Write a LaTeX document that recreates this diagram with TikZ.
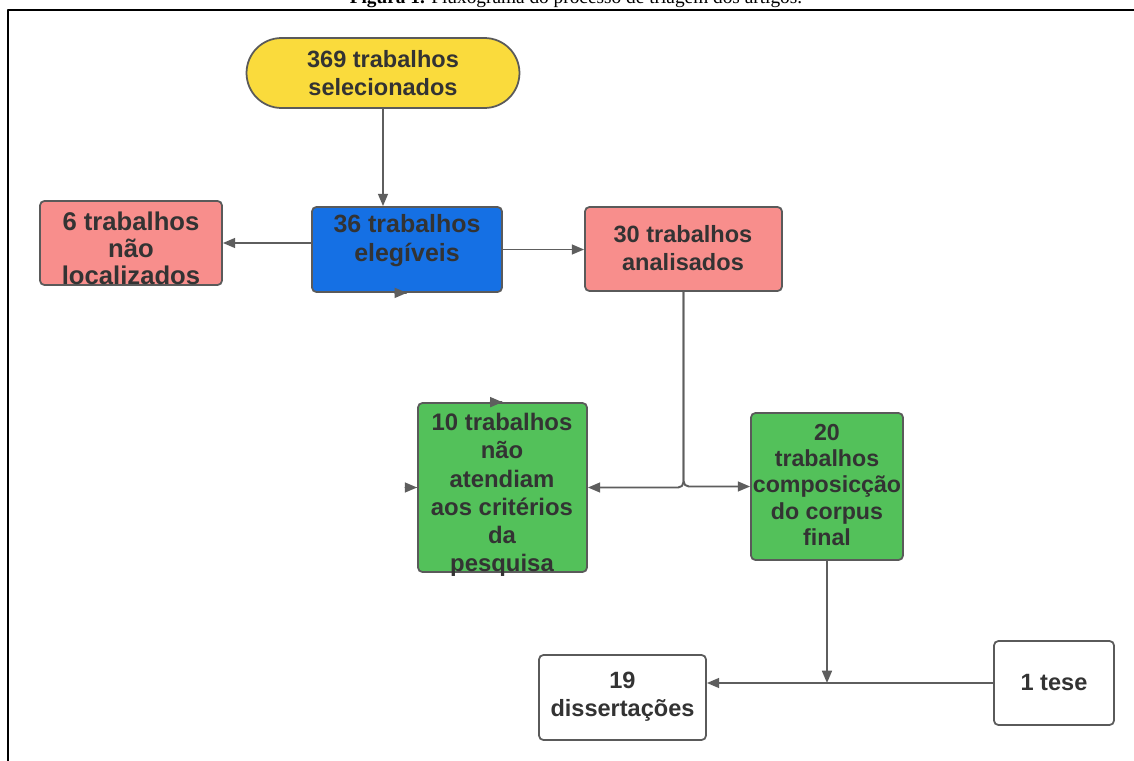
\documentclass[tikz,border=0pt]{standalone}
\usepackage{fontspec}
\setmainfont{Liberation Serif}
\setsansfont{Liberation Sans}
\usetikzlibrary{arrows.meta}
\definecolor{amarelo}{HTML}{FADB3C}
\definecolor{azul}{HTML}{1570E4}
\definecolor{rosa}{HTML}{F88E8C}
\definecolor{verde}{HTML}{53C15A}
\definecolor{borda}{HTML}{5A5A5A}
\definecolor{linha}{HTML}{5E5E5E}
\definecolor{tinta}{HTML}{333333}
\begin{document}
\begin{tikzpicture}[x=0.02cm, y=-0.02cm, line join=round, line cap=round,
	caixa/.style={draw=borda, line width=1pt, rounded corners=2.5pt, inner sep=0pt},
	texto/.style={font=\sffamily\bfseries\fontsize{13.4}{15.9}\selectfont, text=tinta, align=center, inner sep=0pt},
	seta/.style={draw=linha, line width=1.1pt, -{Triangle[length=7pt,width=5.6pt]}}]
	\clip (0,0) rectangle (1134,761);
	\fill[white] (0,0) rectangle (1134,761);
	
	% moldura e legenda
	\draw[line width=1.7pt] (8,790) -- (8,10) -- (1150,10);
	\node[font=\fontsize{11}{12}\selectfont, anchor=base, inner sep=0pt] (legenda) at (576,3.5) {\textbf{Figura 1.} Fluxograma do processo de triagem dos artigos.};
	
	% caixas
	\node[caixa, fill=amarelo, minimum width=5.46cm, minimum height=1.4cm, rounded corners=0.7cm] (sel) at (383,73) {};
	\node[caixa, fill=azul, minimum width=3.8cm, minimum height=1.7cm] (eleg) at (407,249.5) {};
	\node[caixa, fill=rosa, minimum width=3.64cm, minimum height=1.68cm] (nloc) at (131,243) {};
	\node[caixa, fill=rosa, minimum width=3.94cm, minimum height=1.68cm] (anal) at (683.5,249) {};
	\node[caixa, fill=verde, minimum width=3.38cm, minimum height=3.38cm] (natend) at (502.5,487.5) {};
	\node[caixa, fill=verde, minimum width=3.04cm, minimum height=2.94cm] (corpus) at (827,486.5) {};
	\node[caixa, fill=white, minimum width=3.34cm, minimum height=1.7cm] (diss) at (622.5,697.5) {};
	\node[caixa, fill=white, minimum width=2.4cm, minimum height=1.68cm] (tese) at (1054,683) {};
	
	% textos
	\node[texto] (sel-t) at (sel.center) {369 trabalhos\\selecionados};
	\node[texto, font=\sffamily\bfseries\fontsize{14.2}{16.4}\selectfont] (eleg-t) at (407,241) {36 trabalhos\\elegíveis};
	\node[texto, font=\sffamily\bfseries\fontsize{14.6}{15.4}\selectfont] (nloc-t) at (131,248) {6 trabalhos\\não\\localizados};
	\node[texto] (anal-t) at (683,248) {30 trabalhos\\analisados};
	\node[texto, font=\sffamily\bfseries\fontsize{13.6}{16.1}\selectfont] (natend-t) at (502,495) {10 trabalhos\\não\\atendiam\\aos critérios\\da\\pesquisa};
	\node[texto, font=\sffamily\bfseries\fontsize{13.2}{15}\selectfont] (corpus-t) at (827,485) {20\\trabalhos\\composicção\\do corpus\\final};
	\node[texto] (diss-t) at (622.5,697) {19\\dissertações};
	\node[texto] (tese-t) at (tese.center) {1 tese};
	
	% conectores
	\coordinate (juncao) at (corpus.south |- tese.west);
	\draw[seta] (sel.south) -- (sel.south |- eleg.north);
	\draw[seta] (eleg.west |- nloc.east) -- (nloc.east);
	\draw[seta] (eleg.east) -- (eleg.east -| anal.west);
	\draw[seta, rounded corners=3pt] (anal.south) |- (natend.east);
	\draw[seta, rounded corners=3pt] (anal.south) |- (corpus.west);
	\draw[seta] (corpus.south) -- (juncao);
	\draw[seta] (tese.west) -- (tese.west -| diss.east);
	\foreach \p in {eleg.south, natend.north, natend.west}
		\draw[seta] ([xshift=-0.5pt]\p) -- (\p);
\end{tikzpicture}
\end{document}
